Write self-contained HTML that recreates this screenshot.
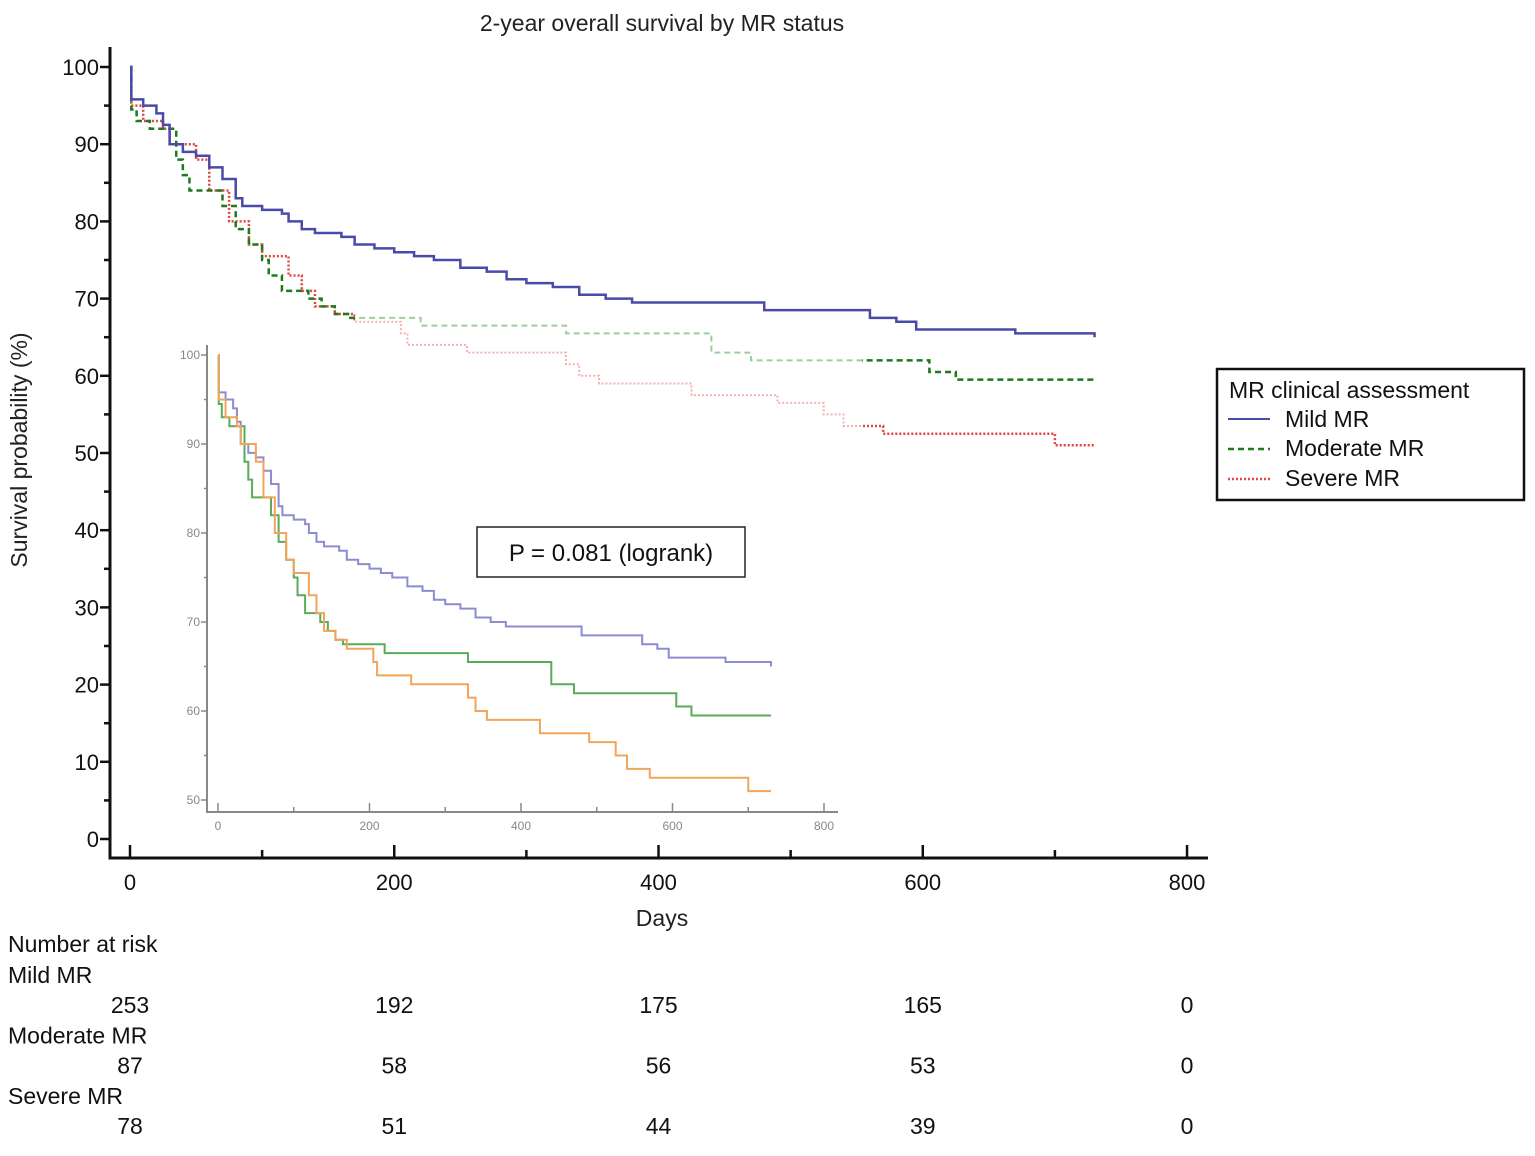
<!DOCTYPE html>
<html><head><meta charset="utf-8"><style>
body{margin:0;background:#fff;}
svg{display:block;font-family:"Liberation Sans",Arial,sans-serif;}
</style></head><body>
<svg id="c" width="1535" height="1156" viewBox="0 0 1535 1156">
<defs>
<clipPath id="dark"><rect x="0" y="0" width="355" height="900"/><rect x="862" y="0" width="400" height="900"/></clipPath>
</defs>
<text x="662" y="31" font-size="23" text-anchor="middle" fill="#222">2-year overall survival by MR status</text>
<text transform="translate(27,450) rotate(-90)" font-size="23" text-anchor="middle" fill="#222">Survival probability (%)</text>
<text x="662" y="926" font-size="23" text-anchor="middle" fill="#222">Days</text>
<g id="axes"></g>
<g id="inset"></g>
<g id="curves"></g>
<rect x="477" y="527" width="268" height="50" fill="#fff" stroke="#222" stroke-width="1.5"/>
<text x="611" y="561" font-size="24" text-anchor="middle" fill="#111">P = 0.081 (logrank)</text>
<g>
<rect x="1217" y="369" width="307" height="131" fill="#fff" stroke="#111" stroke-width="2.5"/>
<text x="1229" y="398" font-size="23" fill="#111">MR clinical assessment</text>
<g><line x1="1228" y1="419" x2="1270" y2="419" stroke="#4a4aa8" stroke-width="2"/><text x="1285" y="427" font-size="23" fill="#111">Mild MR</text></g>
<g><line x1="1228" y1="449" x2="1270" y2="449" stroke="#1f7a1f" stroke-width="2.5" stroke-dasharray="6,4"/><text x="1285" y="456" font-size="23" fill="#111">Moderate MR</text></g>
<g><line x1="1228" y1="479" x2="1270" y2="479" stroke="#e04848" stroke-width="2.5" stroke-dasharray="2,2"/><text x="1285" y="486" font-size="23" fill="#111">Severe MR</text></g>
</g>
<g id="risk" font-size="23" fill="#111"></g>
</svg>
<script>
const mildT=[0,1,10,20,25,30,40,50,60,70,80,85,100,115,120,130,140,160,170,185,200,215,230,250,270,285,300,320,340,360,380,460,480,550,560,580,595,670,730];
const mildS=[100,95.8,95,94,92.5,90,89,88.5,87,85.5,83,82,81.5,81,80,79,78.5,78,77,76.5,76,75.5,75,74,73.5,72.5,72,71.5,70.5,70,69.5,69.5,68.5,68.5,67.5,67,66,65.5,65];
const modT=[0,1,5,15,35,40,45,70,80,90,100,105,115,135,145,155,165,220,330,440,470,605,625,730];
const modS=[100,94.5,93,92,88,86,84,82,79,77,75,73,71,70,69,68,67.5,66.5,65.5,63,62,60.5,59.5,59.5];
const sevT=[0,1,10,25,30,50,60,75,90,100,120,130,140,155,170,205,210,255,330,340,355,425,490,525,540,570,700,730];
const sevS=[100,95,93,92,90,88,84,80,77,75.5,73,71,69,68,67,65.5,64,63,61.5,60,59,57.5,56.5,55,53.5,52.5,51,51];
const xTicks=[0,200,400,600,800];
const yTicks=[0,10,20,30,40,50,60,70,80,90,100];
const insetYTicks=[50,60,70,80,90,100];
const riskGroups=["Mild MR","Moderate MR","Severe MR"];
const riskMild=[253,192,175,165,0];
const riskMod=[87,58,56,53,0];
const riskSev=[78,51,44,39,0];

const NS="http://www.w3.org/2000/svg";
function mk(tag,attrs,parent){const e=document.createElementNS(NS,tag);for(const k in attrs)e.setAttribute(k,attrs[k]);parent.appendChild(e);return e;}
const X=d=>130+d*1.3213, Y=v=>839-v*7.72;
const IX=d=>218+d*0.7575, IY=v=>355+(100-v)*8.9;
function step(T,S,fx,fy){let p="M"+fx(T[0])+","+fy(S[0]);for(let i=1;i<T.length;i++){p+="H"+fx(T[i])+"V"+fy(S[i]);}return p;}

const ax=document.getElementById('axes');
let e=mk('path',{d:"M110,47V858H1208",fill:"none",stroke:"#111","stroke-width":3},ax);

for(let v=0;v<=100;v+=5){mk('line',{x1:v%10?104:100,x2:110,y1:Y(v),y2:Y(v),stroke:"#111","stroke-width":2.5},ax);}
yTicks.forEach(v=>{const t=mk('text',{x:99,y:Y(v)+8,"font-size":22,"text-anchor":"end",fill:"#111"},ax);t.textContent=v;
});
for(let d=0;d<=800;d+=100){mk('line',{x1:X(d),x2:X(d),y1:d%200?850:845,y2:858,stroke:"#111","stroke-width":2.5},ax);}
xTicks.forEach(d=>{const t=mk('text',{x:X(d),y:890,"font-size":22,"text-anchor":"middle",fill:"#111"},ax);t.textContent=d;
});

const ins=document.getElementById('inset');
e=mk('path',{d:"M207,345V812H838",fill:"none",stroke:"#888","stroke-width":2},ins);

for(let v=50;v<=100;v+=5)mk('line',{x1:v%10?204:201,x2:207,y1:IY(v),y2:IY(v),stroke:"#888","stroke-width":1.5},ins);
insetYTicks.forEach(v=>{const t=mk('text',{x:200,y:IY(v)+4,"font-size":12,"text-anchor":"end",fill:"#888"},ins);t.textContent=v;
});
for(let d=0;d<=800;d+=100)mk('line',{x1:IX(d),x2:IX(d),y1:d%200?807:803,y2:812,stroke:"#888","stroke-width":1.5},ins);
xTicks.forEach(d=>{const t=mk('text',{x:IX(d),y:830,"font-size":12,"text-anchor":"middle",fill:"#888"},ins);t.textContent=d;
});
e=mk('path',{d:step(mildT,mildS,IX,IY),fill:"none",stroke:"#8c8cd0","stroke-width":2},ins);

e=mk('path',{d:step(modT,modS,IX,IY),fill:"none",stroke:"#5aab5a","stroke-width":2},ins);

e=mk('path',{d:step(sevT,sevS,IX,IY),fill:"none",stroke:"#f2a55a","stroke-width":2},ins);


const cv=document.getElementById('curves');
e=mk('path',{d:step(sevT,sevS,X,Y),fill:"none",stroke:"#f4b0b0","stroke-width":2,"stroke-dasharray":"2,2"},cv);

e=mk('path',{d:step(sevT,sevS,X,Y),fill:"none",stroke:"#e04848","stroke-width":2.5,"stroke-dasharray":"2,2","clip-path":"url(#dark)"},cv);

e=mk('path',{d:step(modT,modS,X,Y),fill:"none",stroke:"#9ccf9c","stroke-width":2,"stroke-dasharray":"6,4"},cv);

e=mk('path',{d:step(modT,modS,X,Y),fill:"none",stroke:"#1f7a1f","stroke-width":2.5,"stroke-dasharray":"6,4","clip-path":"url(#dark)"},cv);

e=mk('path',{d:step(mildT,mildS,X,Y),fill:"none",stroke:"#4a4aa8","stroke-width":2.5},cv);


const rk=document.getElementById('risk');
let t=mk('text',{x:8,y:952},rk);t.textContent="Number at risk";

[riskMild,riskMod,riskSev].forEach((arr,g)=>{
  const y0=983+g*60.5;
  const h=mk('text',{x:8,y:y0},rk);h.textContent=riskGroups[g];
  
  arr.forEach((n,i)=>{const c=mk('text',{x:X(xTicks[i]),y:y0+30,"text-anchor":"middle"},rk);c.textContent=n;
  });
});
</script>
</body></html>
